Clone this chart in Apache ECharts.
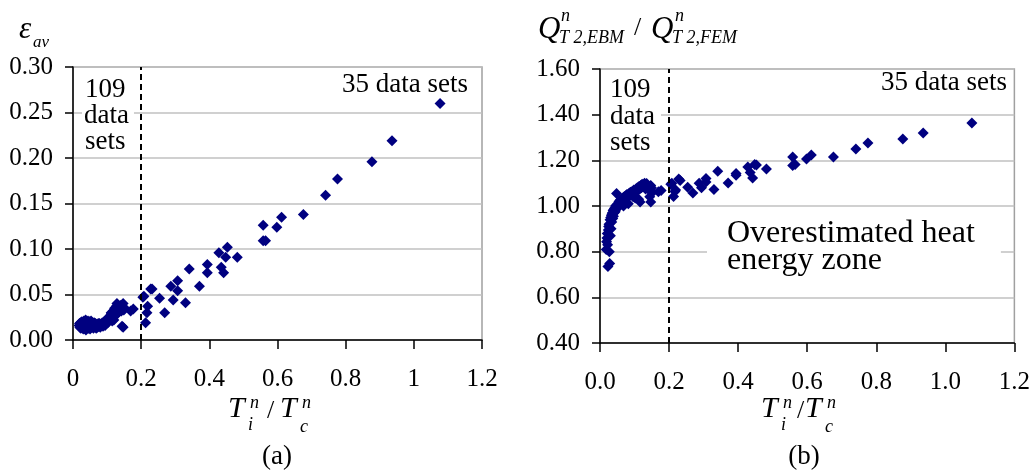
<!DOCTYPE html>
<html>
<head>
<meta charset="utf-8">
<script src="https://cdn.jsdelivr.net/npm/echarts@6/dist/echarts.min.js"></script>
<style>
    html, body { margin: 0; padding: 0; background: #fff; }
    #main { width: 1033px; height: 473px; }
</style>
</head>
<body>
<div id="main"></div>
<script>
// Ti/Tc ratio of each data set (shared by both panels)
var ratio = [
    0.018, 0.019, 0.020, 0.021, 0.022, 0.023, 0.024, 0.025, 0.026, 0.027,
    0.028, 0.029, 0.030, 0.031, 0.032, 0.033, 0.034, 0.035, 0.036, 0.037,
    0.038, 0.039, 0.040, 0.041, 0.042, 0.044, 0.045, 0.046, 0.048, 0.049,
    0.050, 0.052, 0.053, 0.055, 0.057, 0.058, 0.060, 0.062, 0.064, 0.066,
    0.068, 0.070, 0.072, 0.074, 0.076, 0.078, 0.080, 0.082, 0.084, 0.086,
    0.088, 0.090, 0.092, 0.094, 0.096, 0.098, 0.100, 0.102, 0.104, 0.106,
    0.108, 0.110, 0.112, 0.113, 0.115, 0.116, 0.118, 0.120, 0.122, 0.125,
    0.127, 0.129, 0.132, 0.135, 0.139, 0.142, 0.144, 0.147, 0.147, 0.149,
    0.152, 0.169, 0.177,
    0.205, 0.208, 0.213, 0.217, 0.219, 0.228, 0.232, 0.254, 0.269, 0.287,
    0.294, 0.307, 0.307, 0.330, 0.341, 0.371, 0.394, 0.394, 0.428, 0.435,
    0.442, 0.448, 0.453, 0.482, 0.558, 0.558, 0.565, 0.598, 0.612, 0.676,
    0.741, 0.776, 0.877, 0.936, 1.077
];
// panel (a): average error
var epsAv = [
    0.016, 0.018, 0.014, 0.017, 0.019, 0.013, 0.015, 0.018, 0.020, 0.015,
    0.017, 0.019, 0.012, 0.016, 0.021, 0.018, 0.013, 0.020, 0.015, 0.022,
    0.011, 0.017, 0.014, 0.019, 0.016, 0.021, 0.013, 0.018, 0.015, 0.020,
    0.012, 0.017, 0.021, 0.014, 0.019, 0.016, 0.013, 0.019, 0.015, 0.018,
    0.013, 0.017, 0.014, 0.018, 0.015, 0.018, 0.014, 0.017, 0.016, 0.019,
    0.015, 0.018, 0.020, 0.016, 0.021, 0.018, 0.023, 0.019, 0.025, 0.022,
    0.024, 0.027, 0.030, 0.029, 0.021, 0.026, 0.032, 0.022, 0.035, 0.027,
    0.037, 0.040, 0.030, 0.036, 0.038, 0.032, 0.015, 0.040, 0.014, 0.033,
    0.035, 0.032, 0.034,
    0.047, 0.048, 0.019, 0.030, 0.037, 0.056, 0.056, 0.046, 0.030, 0.059,
    0.044, 0.065, 0.054, 0.041, 0.078, 0.059, 0.083, 0.074, 0.096, 0.080,
    0.074, 0.091, 0.102, 0.091, 0.126, 0.109, 0.109, 0.124, 0.135, 0.138,
    0.159, 0.177, 0.196, 0.219, 0.260
];
// panel (b): Q EBM / Q FEM
var qRatio = [
    0.810, 0.843, 0.860, 0.880, 0.830, 0.735, 0.895, 0.910, 0.920, 0.800,
    0.748, 0.940, 0.870, 0.950, 0.900, 0.960, 0.930, 0.965, 0.970, 0.945,
    0.980, 0.955, 0.985, 0.970, 0.990, 0.975, 1.000, 0.985, 1.055, 1.005,
    0.990, 1.010, 1.000, 1.020, 1.005, 1.025, 1.015, 1.030, 1.020, 1.035,
    1.000, 1.040, 1.030, 1.045, 1.035, 1.050, 1.040, 1.010, 1.055, 1.045,
    1.060, 1.050, 1.055, 1.065, 1.040, 1.070, 1.060, 1.035, 1.075, 1.065,
    1.080, 1.070, 1.030, 1.085, 1.075, 1.018, 1.090, 1.080, 1.095, 1.085,
    1.090, 1.100, 1.075, 1.098, 1.085, 1.070, 1.040, 1.090, 1.018, 1.080,
    1.060, 1.062, 1.068,
    1.095, 1.100, 1.042, 1.064, 1.070, 1.118, 1.112, 1.082, 1.057, 1.100,
    1.080, 1.120, 1.105, 1.072, 1.152, 1.101, 1.142, 1.135, 1.171, 1.147,
    1.123, 1.182, 1.180, 1.162, 1.215, 1.177, 1.182, 1.206, 1.223, 1.215,
    1.250, 1.276, 1.293, 1.320, 1.363
];
var splitX = 0.2;

var SERIF = 'Liberation Serif';
var navy = '#000080';

function txt(s, x, y, size, italic, extra) {
    var style = {
        text: s,
        fontFamily: SERIF,
        fontSize: size,
        fontStyle: italic ? 'italic' : 'normal',
        fill: '#000',
        align: 'left',
        verticalAlign: 'middle'
    };
    if (extra) {
        for (var k in extra) style[k] = extra[k];
    }
    return { type: 'text', x: x, y: y, z: 100, silent: true, style: style };
}

function xAxisOpt(idx, fmt) {
    return {
        gridIndex: idx, type: 'value', min: 0, max: 1.2, interval: 0.2,
        axisLine: { show: true, lineStyle: { color: '#000', width: 1.5 } },
        axisTick: { show: true, inside: false, length: 9, lineStyle: { color: '#000', width: 1.5 } },
        axisLabel: { margin: 27, color: '#000', fontFamily: SERIF, fontSize: 25, formatter: fmt },
        splitLine: { show: false }
    };
}

function yAxisOpt(idx, min, max, step, digits) {
    return {
        gridIndex: idx, type: 'value', min: min, max: max, interval: step,
        axisLine: { show: true, lineStyle: { color: '#000', width: 1.5 } },
        axisTick: { show: true, inside: false, length: 8, lineStyle: { color: '#000', width: 1.5 } },
        axisLabel: {
            margin: 20, color: '#000', fontFamily: SERIF, fontSize: 25,
            formatter: function (v) { return v.toFixed(digits); }
        },
        splitLine: { show: true, lineStyle: { color: '#c0c0c0', width: 1.5 } }
    };
}

function scatter(idx, ys) {
    return {
        type: 'scatter',
        xAxisIndex: idx, yAxisIndex: idx,
        symbol: 'diamond', symbolSize: 11,
        itemStyle: { color: navy, opacity: 1 },
        data: ratio.map(function (x, i) { return [x, ys[i]]; }),
        markLine: {
            silent: true, symbol: 'none', animation: false,
            label: { show: false },
            lineStyle: { color: '#000', type: [6, 4], width: 2, opacity: 1 },
            data: [{ xAxis: splitX }]
        }
    };
}

var chart = echarts.init(document.getElementById('main'));

chart.setOption({
    animation: false,
    grid: [
        { left: 73, top: 67, width: 409, height: 273, show: true, borderColor: '#a0a0a0', borderWidth: 1.5 },
        { left: 600, top: 69, width: 415, height: 274, show: true, borderColor: '#a0a0a0', borderWidth: 1.5 }
    ],
    xAxis: [
        xAxisOpt(0, function (v) { return String(+v.toFixed(1)); }),
        xAxisOpt(1, function (v) { return v.toFixed(1); })
    ],
    yAxis: [
        yAxisOpt(0, 0, 0.30, 0.05, 2),
        yAxisOpt(1, 0.4, 1.6, 0.2, 2)
    ],
    series: [scatter(0, epsAv), scatter(1, qRatio)],
    graphic: [
        // panel (a) y title
        txt('\u03b5', 19, 30, 31, true),
        txt('av', 33, 43, 17, true),
        // panel (b) y title
        txt('Q', 538, 30, 31, true),
        txt('n', 561, 16, 18, true),
        txt('T 2,EBM', 559, 38, 18, true),
        txt('/', 634, 28, 26, false),
        txt('Q', 651, 30, 31, true),
        txt('n', 675, 16, 18, true),
        txt('T 2,FEM', 672, 38, 18, true),
        // x titles
        txt('T', 228, 409, 30, true),
        txt('n', 250, 403, 18, true),
        txt('i', 248, 425, 18, true),
        txt('/', 267, 411, 26, false),
        txt('T', 280, 409, 30, true),
        txt('n', 302, 403, 18, true),
        txt('c', 300, 427, 18, true),
        txt('T', 761, 409, 30, true),
        txt('n', 783, 403, 18, true),
        txt('i', 781, 425, 18, true),
        txt('/', 797, 411, 26, false),
        txt('T', 805, 409, 30, true),
        txt('n', 827, 403, 18, true),
        txt('c', 825, 427, 18, true),
        // panel captions
        txt('(a)', 277, 457, 27, false, { align: 'center' }),
        txt('(b)', 804, 457, 27, false, { align: 'center' }),
        // annotations panel (a)
        txt('109', 85, 90, 27, false),
        txt('data', 82, 116, 27, false, { backgroundColor: '#fff', padding: [2, 5, 2, 2] }),
        txt('sets', 85, 142, 27, false),
        txt('35 data sets', 468, 85, 27, false, { align: 'right' }),
        // annotations panel (b)
        txt('109', 610, 90, 27, false),
        txt('data', 601, 117, 27, false, { backgroundColor: '#fff', padding: [2, 6, 2, 9] }),
        txt('sets', 610, 143, 27, false),
        txt('35 data sets', 1007, 83, 27, false, { align: 'right' }),
        txt('Overestimated heat\nenergy zone', 707, 247, 32, false,
            { backgroundColor: '#fff', lineHeight: 27, padding: [4, 26, 4, 20] })
    ]
});
</script>
</body>
</html>
